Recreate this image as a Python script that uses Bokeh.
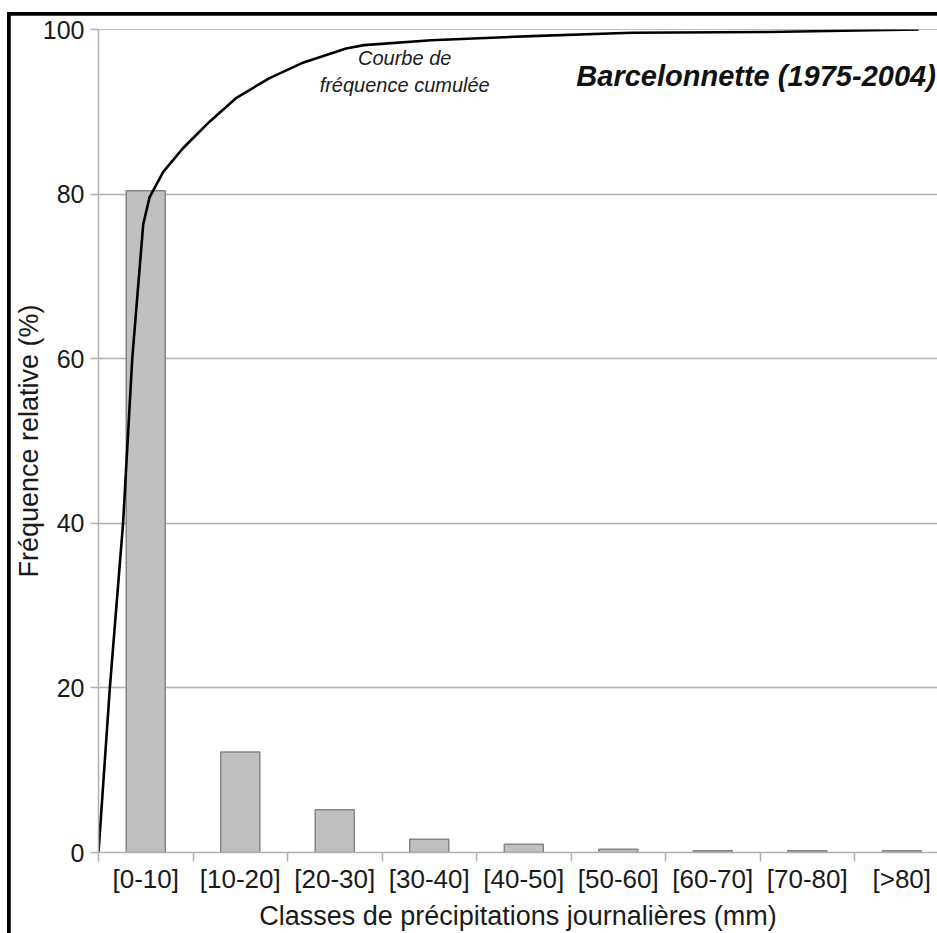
from bokeh.plotting import figure
from bokeh.layouts import column
from bokeh.models import Range1d, FixedTicker, Label
from bokeh.embed import file_html
from bokeh.resources import INLINE

# ---- data ----
classes = ["[0-10]", "[10-20]", "[20-30]", "[30-40]", "[40-50]",
           "[50-60]", "[60-70]", "[70-80]", "[>80]"]
freq_rel = [80.4, 12.2, 5.2, 1.6, 1.0, 0.4, 0.2, 0.2, 0.2]

# cumulative-frequency curve as traced (position in class units, %)
curve_pos = [0.0, 0.12, 0.26, 0.357, 0.473, 0.54, 0.685, 0.896, 1.175, 1.46,
             1.81, 2.17, 2.62, 2.81, 3.52, 4.58, 5.64, 7.09, 8.68]
curve_pct = [0.0, 20.0, 40.0, 60.0, 76.3, 79.6, 82.7, 85.6, 88.8, 91.7,
             94.1, 96.0, 97.7, 98.1, 98.7, 99.2, 99.6, 99.7, 100.0]

centers = [i + 0.5 for i in range(len(classes))]
bounds = list(range(len(classes) + 1))

FONT = "Liberation Sans"
GRID = "#b0b0b0"
TXT = "#1a1a1a"

p = figure(width=927, height=918, output_backend="svg", toolbar_location=None,
           x_range=Range1d(0, 8.878), y_range=Range1d(0, 100),
           min_border_left=86, min_border_right=0, min_border_top=14,
           min_border_bottom=77, margin=(3, 0, 0, 3))
p.outline_line_color = None
p.background_fill_color = "white"
p.border_fill_color = "white"

p.vbar(x=centers, top=freq_rel, width=0.413, bottom=0,
       fill_color="#c0c0c0", line_color="#858585", line_width=1.5)
p.line(curve_pos, curve_pct, line_color="black", line_width=2.6)

# y axis
p.yaxis.ticker = FixedTicker(ticks=[0, 20, 40, 60, 80, 100])
p.yaxis.axis_label = "Fréquence relative (%)"
p.yaxis.axis_label_text_font = FONT
p.yaxis.axis_label_text_font_size = "27px"
p.yaxis.axis_label_text_font_style = "normal"
p.yaxis.axis_label_text_color = TXT
p.yaxis.axis_label_standoff = -4
p.yaxis.major_label_text_font = FONT
p.yaxis.major_label_text_font_size = "25px"
p.yaxis.major_label_text_color = TXT
p.yaxis.major_label_standoff = 6
p.yaxis.major_tick_out = 8
p.yaxis.major_tick_in = 0
p.yaxis.minor_tick_line_color = None
p.yaxis.major_tick_line_color = GRID
p.yaxis.axis_line_color = GRID
p.yaxis.axis_line_width = 1.5
p.yaxis.major_tick_line_width = 1.5

# x axis
p.xaxis.ticker = FixedTicker(ticks=centers, minor_ticks=bounds)
p.xaxis.major_label_overrides = {c: lab for c, lab in zip(centers, classes)}
p.xaxis.axis_label = "Classes de précipitations journalières (mm)"
p.xaxis.axis_label_text_font = FONT
p.xaxis.axis_label_text_font_size = "27px"
p.xaxis.axis_label_text_font_style = "normal"
p.xaxis.axis_label_text_color = TXT
p.xaxis.axis_label_standoff = 4
p.xaxis.major_label_text_font = FONT
p.xaxis.major_label_text_font_size = "26px"
p.xaxis.major_label_text_color = TXT
p.xaxis.major_label_standoff = 2
p.xaxis.major_tick_line_color = None
p.xaxis.major_tick_out = 0
p.xaxis.major_tick_in = 0
p.xaxis.minor_tick_out = 9
p.xaxis.minor_tick_in = 0
p.xaxis.minor_tick_line_color = GRID
p.xaxis.minor_tick_line_width = 1.5
p.xaxis.axis_line_color = GRID
p.xaxis.axis_line_width = 1.5

p.xgrid.grid_line_color = None
p.ygrid.grid_line_color = GRID
p.ygrid.grid_line_width = 1.5

p.add_layout(Label(x=3.24, y=96.5, text="Courbe de", text_align="center",
                   text_baseline="middle", text_font=FONT, text_font_size="20px",
                   text_font_style="italic", text_color=TXT))
p.add_layout(Label(x=3.24, y=93.3, text="fréquence cumulée", text_align="center",
                   text_baseline="middle", text_font=FONT, text_font_size="20px",
                   text_font_style="italic", text_color=TXT))
p.add_layout(Label(x=8.86, y=94.4, text="Barcelonnette (1975-2004)",
                   text_align="right", text_baseline="middle", text_font=FONT,
                   text_font_size="29px", text_font_style="bold italic",
                   text_color="#111111"))

layout = column(p, styles={"background-color": "black", "margin-top": "12px",
                           "margin-left": "7px"})

open("out.html", "w").write(file_html(layout, INLINE))
